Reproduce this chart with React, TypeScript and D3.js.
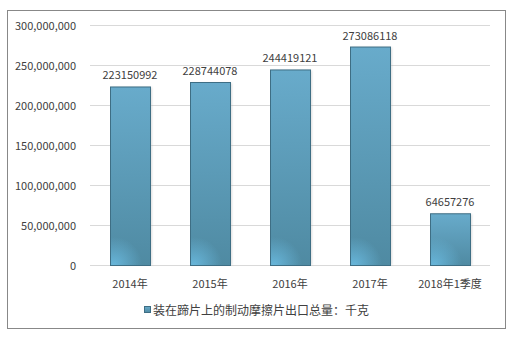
import React from "react";
import * as d3 from "d3";

const categories = ["2014年", "2015年", "2016年", "2017年", "2018年1季度"];
const values = [223150992, 228744078, 244419121, 273086118, 64657276];
const yTicks = [0, 50000000, 100000000, 150000000, 200000000, 250000000, 300000000];
const legendLabel = "装在蹄片上的制动摩擦片出口总量：千克";

const W = 519;
const H = 339;
const plot = { left: 90, right: 490, top: 25, bottom: 265 };
const FONT = "'Noto Sans CJK SC', 'Noto Sans', sans-serif";

export default function App() {
  const x = d3
    .scaleBand<string>()
    .domain(categories)
    .range([plot.left, plot.right])
    .paddingInner(0.5)
    .paddingOuter(0.25);
  const y = d3.scaleLinear().domain([0, 300000000]).range([plot.bottom, plot.top]);
  const fmt = d3.format(",");

  return (
    <svg
      width={W}
      height={H}
      style={{ position: "absolute", left: 0, top: 0, background: "#fff" }}
      fontFamily={FONT}
    >
      <defs>
        <linearGradient id="barGrad" x1="0" y1="0" x2="0" y2="1">
          <stop offset="0%" stopColor="#68abcb" />
          <stop offset="100%" stopColor="#4f8aa2" />
        </linearGradient>
        <filter id="shadow" x="-20%" y="-5%" width="140%" height="110%">
          <feGaussianBlur stdDeviation="1.2" />
        </filter>
      </defs>
      <rect x={7.5} y={10.5} width={498} height={318} fill="#fff" stroke="#888" />
      {yTicks.map((t) => (
        <g key={t}>
          <line
            x1={plot.left}
            x2={plot.right}
            y1={Math.round(y(t)) + 0.5}
            y2={Math.round(y(t)) + 0.5}
            stroke="#d9d9d9"
          />
          <text
            x={76}
            y={y(t)}
            textAnchor="end"
            dominantBaseline="central"
            fontSize={11}
            fill="#404040"
          >
            {fmt(t)}
          </text>
        </g>
      ))}
      {categories.map((c, i) => {
        const bx = x(c)!;
        const bw = x.bandwidth();
        const top = y(values[i]);
        const h = plot.bottom - top;
        const gid = `spot${i}`;
        return (
          <g key={c}>
            <defs>
              <radialGradient
                id={gid}
                gradientUnits="userSpaceOnUse"
                cx={bx + 4}
                cy={plot.bottom}
                r={28}
              >
                <stop offset="0%" stopColor="#6cbde3" stopOpacity={0.85} />
                <stop offset="100%" stopColor="#6cbde3" stopOpacity={0} />
              </radialGradient>
            </defs>
            <rect x={bx + 2} y={top + 1} width={bw} height={h - 1} fill="#bbb" opacity={0.5} filter="url(#shadow)" />
            <rect x={bx + 0.5} y={top + 0.5} width={bw} height={h} fill="url(#barGrad)" />
            <rect x={bx + 0.5} y={top + 0.5} width={bw} height={h} fill={`url(#${gid})`} stroke="#3e6e84" strokeWidth={1} />
            <text
              x={bx + bw / 2}
              y={top - 12}
              textAnchor="middle"
              dominantBaseline="central"
              fontSize={11}
              fill="#404040"
            >
              {values[i]}
            </text>
            <text
              x={bx + bw / 2}
              y={283}
              textAnchor="middle"
              dominantBaseline="central"
              fontSize={11}
              fill="#404040"
            >
              {c}
            </text>
          </g>
        );
      })}
      <rect x={144.5} y={306.5} width={6} height={6} fill="url(#barGrad)" stroke="#3e6e84" />
      <text x={153} y={309.5} dominantBaseline="central" fontSize={12} fill="#404040">
        {legendLabel}
      </text>
    </svg>
  );
}
